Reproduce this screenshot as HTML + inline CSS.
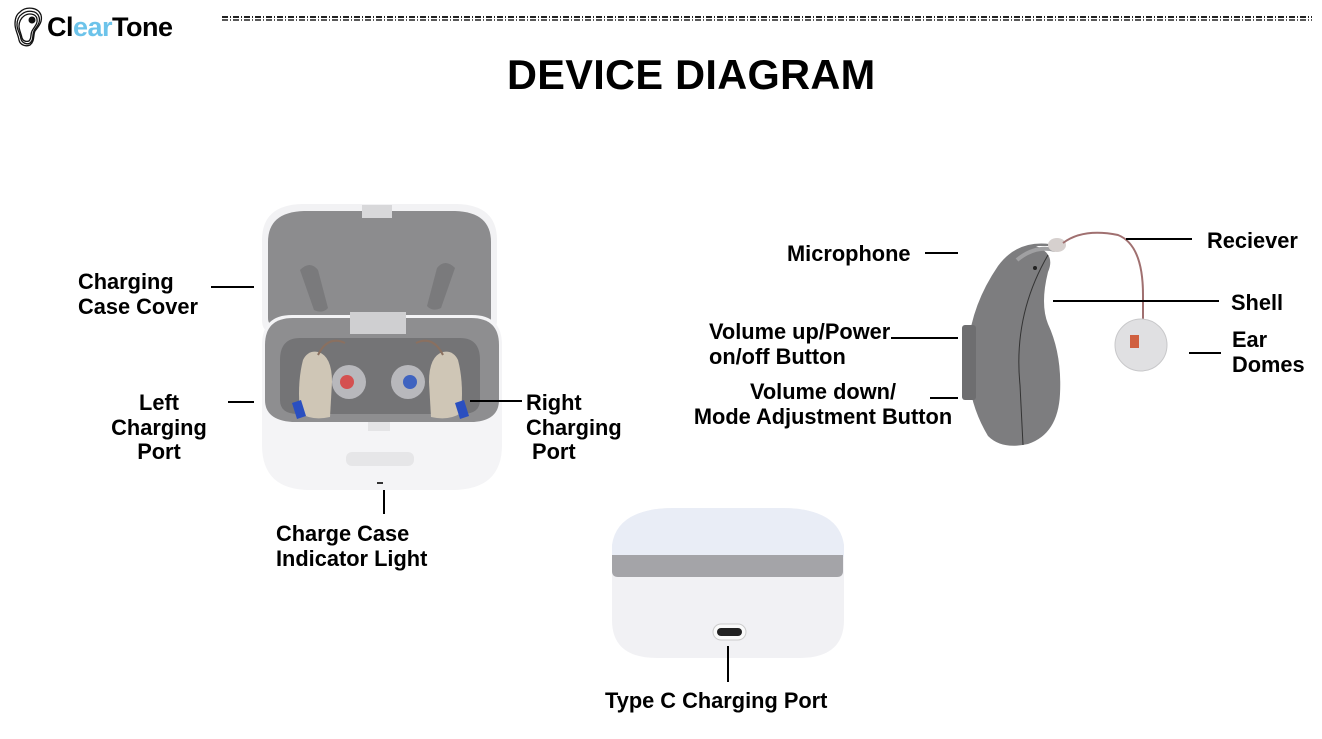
<!DOCTYPE html>
<html><head><meta charset="utf-8"><style>
body{margin:0;width:1322px;height:739px;background:#fff;position:relative;overflow:hidden;font-family:"Liberation Sans",sans-serif}
.t{position:absolute;font-weight:bold;font-size:21.8px;line-height:24.5px;color:#000;white-space:nowrap}
.c{text-align:center}
.l{position:absolute;background:#000;height:1.5px}
.v{position:absolute;background:#000;width:1.5px}
</style></head><body>
<svg width="1322" height="739" style="position:absolute;left:0;top:0">
<g fill="none" stroke="#111" stroke-width="1.3">
<path d="M20 12c6-6 18-5 21 3 2 7-3 12-6 16-2 4 0 10-5 14-4 2-10 0-11-5-1-6-4-10-4-16 0-6 2-10 5-12z"/>
<path d="M22 14c5-4 15-4 17 3 2 6-3 10-5 14-2 4 0 9-4 12-3 2-8 0-9-4-1-6-4-9-4-14 0-5 2-9 5-11z"/>
<path d="M24 16c4-3 12-3 13 3 1 5-3 8-5 12-2 4 0 7-3 10-3 1-6 0-7-3-1-5-3-8-3-12 0-4 2-8 5-10z"/>
</g>
<circle cx="32" cy="20" r="3.5" fill="#111"/>
<line x1="222" y1="17" x2="1312" y2="17" stroke="#222" stroke-width="2" stroke-dasharray="6,2,1,2"/>
<line x1="222" y1="20" x2="1312" y2="20" stroke="#222" stroke-width="1.5" stroke-dasharray="6,2,1,2"/>

<path d="M262 240q0-35 40-36h155q40 1 40 36v80q0 12-10 12H272q-10 0-10-12z" fill="#f2f2f4"/>
<path d="M268 242q0-30 36-31h151q36 1 36 31v76q0 8-8 8H276q-8 0-8-8z" fill="#8c8c8e"/>
<rect x="362" y="205" width="30" height="13" fill="#d8d8da"/>
<path d="M300 270q10-10 18 0l10 38q-5 6-14 2z" fill="#7a7a7c"/>
<path d="M455 268q-10-10-18 0l-10 38q5 6 14 2z" fill="#7a7a7c"/>
<path d="M262 345q0-30 30-30h180q30 0 30 30v100q0 45-50 45H310q-48 0-48-45z" fill="#f4f4f6"/>
<path d="M265 345q0-27 28-27h178q28 0 28 27v55q0 20-25 22H292q-27-2-27-22z" fill="#8e8e90"/>
<path d="M280 360q0-22 20-22h160q20 0 20 22v40q0 14-18 14H298q-18 0-18-14z" fill="#747476"/>
<rect x="350" y="312" width="56" height="22" fill="#cfcfd1"/>
<rect x="368" y="422" width="22" height="9" fill="#e4e4e6"/>
<rect x="346" y="452" width="68" height="14" rx="6" fill="#e6e6e8"/>
<rect x="377" y="482" width="6" height="2" fill="#333"/>
<path d="M303 360q5-10 15-8 14 4 14 30l-2 35q-18 4-30-4-3-30 3-53z" fill="#cfc6b6"/>
<path d="M292 403l9-3 5 16-9 3z" fill="#2a4fc0"/>
<path d="M458 360q-5-10-15-8-14 4-14 30l2 35q18 4 30-4 3-30-3-53z" fill="#cfc6b6"/>
<path d="M455 403l9-3 5 16-9 3z" fill="#2a4fc0"/>
<path d="M318 355q10-20 27-12" stroke="#8a7060" stroke-width="2" fill="none"/>
<path d="M443 355q-10-20-27-12" stroke="#8a7060" stroke-width="2" fill="none"/>
<circle cx="349" cy="382" r="17" fill="#b8b8bc"/><circle cx="347" cy="382" r="7" fill="#d45050"/>
<circle cx="408" cy="382" r="17" fill="#b8b8bc"/><circle cx="410" cy="382" r="7" fill="#3f63c0"/>

<path d="M1060 246q-40-10-62 20-26 38-30 80-4 50 20 90 14 14 40 8 30-10 32-50 2-40-12-70-8-20 0-52 8-18-12-26z" fill="#7d7d7f"/>
<path d="M1055 250q-20-5-38 10" stroke="#a0a0a2" stroke-width="4" fill="none"/>
<rect x="962" y="325" width="14" height="75" rx="3" fill="#6e6e70"/>
<path d="M1048 255q-35 60-28 130l3 60" stroke="#333" stroke-width="1" fill="none"/>
<circle cx="1035" cy="268" r="2" fill="#222"/>
<ellipse cx="1057" cy="245" rx="9" ry="7" fill="#d6d0ce"/>
<path d="M1063 243q20-15 55-8 25 10 25 60v50" stroke="#a07070" stroke-width="2" fill="none"/>
<circle cx="1141" cy="345" r="26" fill="#e0e0e2" stroke="#c8c8ca"/>
<rect x="1130" y="335" width="9" height="13" fill="#d06040"/>

<path d="M612 560q0-52 60-52h112q60 0 60 52v60q0 38-45 38H657q-45 0-45-38z" fill="#f1f1f4"/>
<path d="M612 545q5-36 60-37h112q55 1 60 37v12H612z" fill="#e9edf6"/>
<path d="M612 555h231v16q0 6-6 6H618q-6 0-6-6z" fill="#a4a4a8"/>
<rect x="713" y="624" width="33" height="16" rx="8" fill="#fafafa" stroke="#ccc"/>
<rect x="717" y="628" width="25" height="8" rx="4" fill="#222"/>
</svg>

<div class="t" style="left:47px;top:11px;font-size:27px;line-height:32px;font-weight:bold;letter-spacing:-0.5px">Cl<span style="color:#6cc3ea">ear</span>Tone</div>
<div class="t" style="left:507px;top:50px;font-size:41.5px;line-height:50px;letter-spacing:0.3px">DEVICE DIAGRAM</div>

<div class="t" style="left:78px;top:270px">Charging<br>Case Cover</div>
<div class="l" style="left:211px;top:286px;width:43px"></div>
<div class="t c" style="left:104px;top:391px;width:110px">Left<br>Charging<br>Port</div>
<div class="l" style="left:228px;top:401px;width:26px"></div>
<div class="t" style="left:526px;top:391px">Right<br>Charging<br>&nbsp;Port</div>
<div class="l" style="left:470px;top:400px;width:52px"></div>
<div class="t" style="left:276px;top:522px">Charge Case<br>Indicator Light</div>
<div class="v" style="left:383px;top:490px;height:24px"></div>

<div class="t" style="left:787px;top:242px">Microphone</div>
<div class="l" style="left:925px;top:252px;width:33px"></div>
<div class="t" style="left:1207px;top:229px">Reciever</div>
<div class="l" style="left:1126px;top:238px;width:66px"></div>
<div class="t" style="left:1231px;top:291px">Shell</div>
<div class="l" style="left:1053px;top:300px;width:166px"></div>
<div class="t" style="left:1232px;top:328px">Ear<br>Domes</div>
<div class="l" style="left:1189px;top:352px;width:32px"></div>
<div class="t" style="left:709px;top:320px">Volume up/Power<br>on/off Button</div>
<div class="l" style="left:891px;top:337px;width:67px"></div>
<div class="t c" style="left:680px;top:380px;width:286px">Volume down/<br>Mode Adjustment Button</div>
<div class="l" style="left:930px;top:397px;width:28px"></div>

<div class="t" style="left:605px;top:689px">Type C Charging Port</div>
<div class="v" style="left:727px;top:646px;height:36px"></div>
</body></html>
